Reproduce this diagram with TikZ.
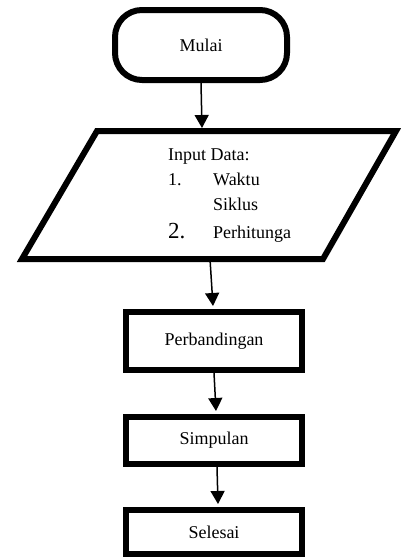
\documentclass[tikz,border=0pt]{standalone}
\usepackage{fontspec}
\setmainfont{Liberation Serif}
\usetikzlibrary{arrows.meta}
\begin{document}
\begin{tikzpicture}[x=1pt,y=1pt,
  thickbox/.style={draw=black,line width=6pt,fill=white,inner sep=0pt,font=\fontsize{18}{21}\selectfont},
  term/.style={thickbox,rounded corners=27pt,minimum width=172pt,minimum height=70pt},
  procbox/.style={thickbox,minimum width=176pt},
  txt/.style={inner sep=0pt,anchor=base west,font=\fontsize{18}{21}\selectfont},
  conn/.style={line width=1.5pt,-{Triangle[length=13pt,width=14pt]}}]
\useasboundingbox (0,0) rectangle (401,-557);
% start
\node[term] (mulai) at (201,-45) {Mulai};
% input parallelogram
\draw[line width=6pt,fill=white,miter limit=10] (97,-131) -- (396,-131) -- (323,-259) -- (22,-259) -- cycle;
\coordinate (inTop) at (202,-128);
\coordinate (inBot) at (210,-259);
\node[txt] (inlabel) at (168,-160) {Input Data:};
\node[txt] (n1) at (168,-185) {1.};
\node[txt] (w1) at (213,-185) {Waktu};
\node[txt] (w2) at (213,-210) {Siklus};
\node[txt,font=\fontsize{23}{26}\selectfont] (n2) at (168,-238) {2.};
\node[txt] (w3) at (213,-238) {Perhitunga};
% process boxes
\node[procbox,minimum height=58pt] (perb) at (214,-341) {Perbandingan};
\node[procbox,minimum height=47pt] (simp) at (214,-440.5) {Simpulan};
\node[procbox,minimum height=44pt] (sel) at (214,-532) {Selesai};
% connectors
\draw[conn] (mulai.south) -- (inTop);
\draw[conn] (inBot) -- ([xshift=-1pt,yshift=3pt]perb.north);
\draw[conn] (perb.south) -- ([xshift=2pt,yshift=3pt]simp.north);
\draw[conn] ([xshift=3pt]simp.south) -- ([xshift=4pt,yshift=3pt]sel.north);
\end{tikzpicture}
\end{document}
